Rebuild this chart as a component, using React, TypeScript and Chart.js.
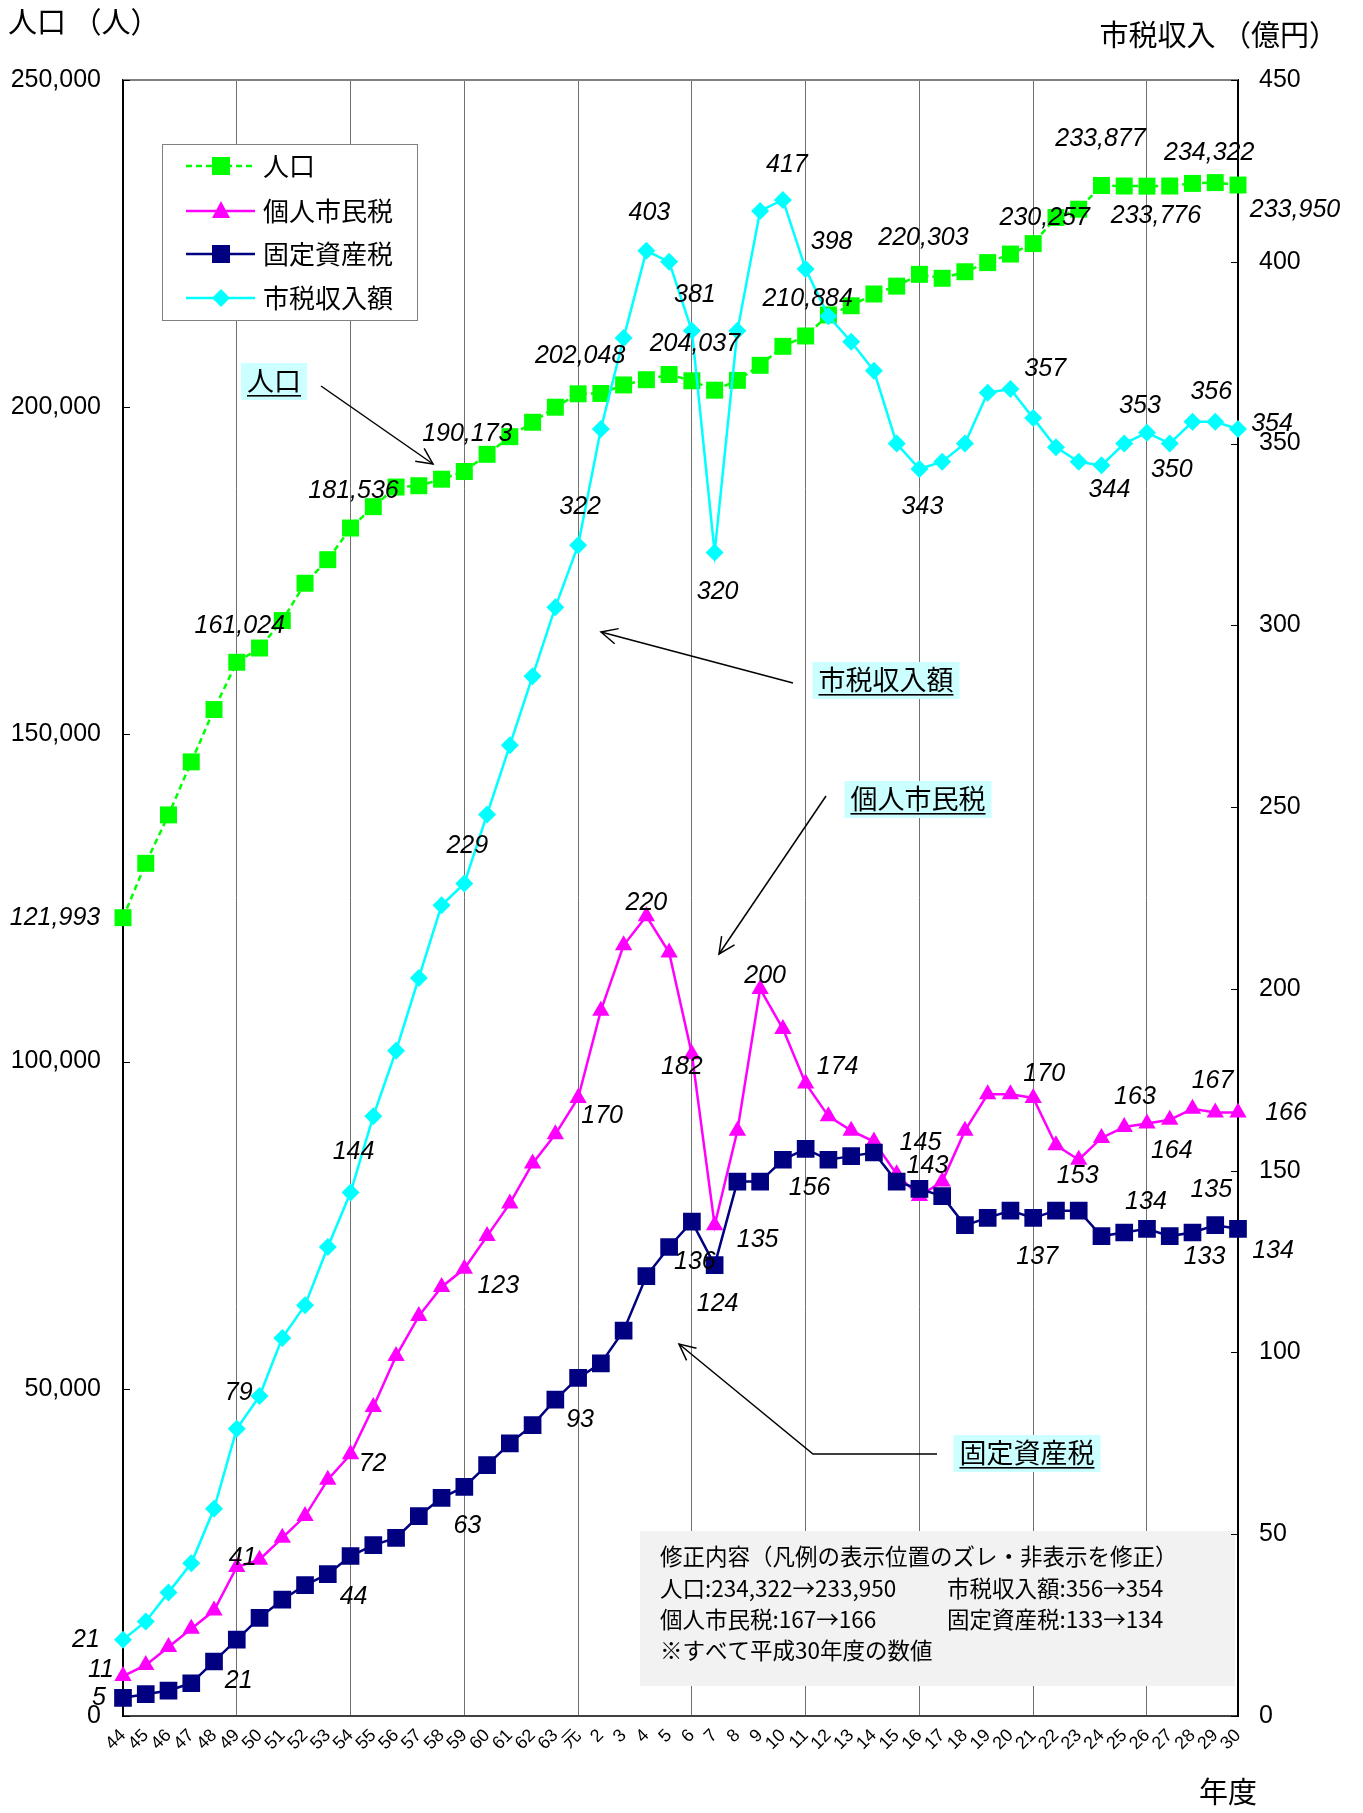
import React, { useEffect, useRef } from 'react';
import { Chart, registerables } from 'chart.js';

Chart.register(...registerables);

const W = 1363;
const H = 1813;

// ---------- data ----------
const fiscalYears = ['44','45','46','47','48','49','50','51','52','53','54','55','56','57','58','59','60','61','62','63','元','2','3','4','5','6','7','8','9','10','11','12','13','14','15','16','17','18','19','20','21','22','23','24','25','26','27','28','29','30'];

const population = [121993,130300,137700,145800,153800,161024,163200,167400,173100,176700,181536,184800,187800,188000,189000,190173,192800,195500,197700,200000,202048,202100,203400,204200,205000,204037,202600,204100,206400,209300,210884,214100,215500,217300,218500,220303,219700,220700,222100,223400,225000,229000,230257,233877,233800,233776,233800,234200,234322,233950];

const individualTax = [11,14,19,24,29,41,43,49,55,65,72,85,99,110,118,123,132,141,152,160,170,194,212,220,210,182,135,161,200,189,174,165,161,158,149,143,147,161,171,171,170,157,153,159,162,163,164,167,166,166];

const propertyTax = [5,6,7,9,15,21,27,32,36,39,44,47,49,55,60,63,69,75,80,87,93,97,106,121,129,136,124,147,147,153,156,153,154,155,147,145,143,135,137,139,137,139,139,132,133,134,132,133,135,134];

const cityTaxRevenue = [21,26,34,42,57,79,88,104,113,129,144,165,183,203,223,229,248,267,286,305,322,354,379,403,400,381,320,381,414,417,398,385,378,370,350,343,345,350,364,365,357,349,345,344,350,353,350,356,356,354];

const leftTicks = [0, 50000, 100000, 150000, 200000, 250000];
const rightTicks = [0, 50, 100, 150, 200, 250, 300, 350, 400, 450];

const seriesNames = ['人口', '個人市民税', '固定資産税', '市税収入額'];

const noteLines = [
  ['修正内容（凡例の表示位置のズレ・非表示を修正）', ''],
  ['人口:234,322→233,950', '市税収入額:356→354'],
  ['個人市民税:167→166', '固定資産税:133→134'],
  ['※すべて平成30年度の数値', ''],
];

// ---------- label placement (dataset index, point index, pixel offset) ----------
const labelSpecs: { ds: number; i: number; dx: number; dy: number }[] = [
  // population (ds 0)
  { ds: 0, i: 0, dx: -68, dy: 0 },
  { ds: 0, i: 5, dx: 3, dy: -36 },
  { ds: 0, i: 10, dx: 3, dy: -37 },
  { ds: 0, i: 15, dx: 3, dy: -37 },
  { ds: 0, i: 20, dx: 2, dy: -38 },
  { ds: 0, i: 25, dx: 3, dy: -37 },
  { ds: 0, i: 30, dx: 2, dy: -37 },
  { ds: 0, i: 35, dx: 4, dy: -36 },
  { ds: 0, i: 42, dx: -34, dy: 9 },
  { ds: 0, i: 43, dx: -1, dy: -46 },
  { ds: 0, i: 45, dx: 9, dy: 30 },
  { ds: 0, i: 48, dx: -6, dy: -30 },
  { ds: 0, i: 49, dx: 57, dy: 25 },
  // individual tax (ds 1)
  { ds: 1, i: 0, dx: -22, dy: -6 },
  { ds: 1, i: 5, dx: 6, dy: -9 },
  { ds: 1, i: 10, dx: 22, dy: 10 },
  { ds: 1, i: 15, dx: 34, dy: 17 },
  { ds: 1, i: 20, dx: 24, dy: 18 },
  { ds: 1, i: 23, dx: 0, dy: -13 },
  { ds: 1, i: 25, dx: -10, dy: 13 },
  { ds: 1, i: 26, dx: 43, dy: 15 },
  { ds: 1, i: 28, dx: 5, dy: -13 },
  { ds: 1, i: 30, dx: 32, dy: -16 },
  { ds: 1, i: 35, dx: 8, dy: -30 },
  { ds: 1, i: 40, dx: 11, dy: -24 },
  { ds: 1, i: 42, dx: -1, dy: 16 },
  { ds: 1, i: 45, dx: -12, dy: -26 },
  { ds: 1, i: 46, dx: 2, dy: 31 },
  { ds: 1, i: 47, dx: 20, dy: -28 },
  { ds: 1, i: 49, dx: 48, dy: 1 },
  // property tax (ds 2)
  { ds: 2, i: 0, dx: -24, dy: 0 },
  { ds: 2, i: 5, dx: 2, dy: 41 },
  { ds: 2, i: 10, dx: 3, dy: 41 },
  { ds: 2, i: 15, dx: 3, dy: 39 },
  { ds: 2, i: 20, dx: 2, dy: 42 },
  { ds: 2, i: 25, dx: 3, dy: 40 },
  { ds: 2, i: 26, dx: 3, dy: 39 },
  { ds: 2, i: 30, dx: 4, dy: 39 },
  { ds: 2, i: 35, dx: 1, dy: -46 },
  { ds: 2, i: 40, dx: 4, dy: 39 },
  { ds: 2, i: 45, dx: -1, dy: -27 },
  { ds: 2, i: 47, dx: 12, dy: 25 },
  { ds: 2, i: 48, dx: -4, dy: -35 },
  { ds: 2, i: 49, dx: 35, dy: 22 },
  // city tax revenue (ds 3)
  { ds: 3, i: 0, dx: -37, dy: 0 },
  { ds: 3, i: 5, dx: 2, dy: -36 },
  { ds: 3, i: 10, dx: 3, dy: -40 },
  { ds: 3, i: 15, dx: 3, dy: -37 },
  { ds: 3, i: 20, dx: 2, dy: -38 },
  { ds: 3, i: 23, dx: 3, dy: -38 },
  { ds: 3, i: 25, dx: 3, dy: -36 },
  { ds: 3, i: 26, dx: 3, dy: 39 },
  { ds: 3, i: 29, dx: 4, dy: -35 },
  { ds: 3, i: 30, dx: 26, dy: -27 },
  { ds: 3, i: 35, dx: 3, dy: 38 },
  { ds: 3, i: 40, dx: 12, dy: -49 },
  { ds: 3, i: 43, dx: 8, dy: 25 },
  { ds: 3, i: 45, dx: -7, dy: -27 },
  { ds: 3, i: 46, dx: 2, dy: 26 },
  { ds: 3, i: 48, dx: -4, dy: -30 },
  { ds: 3, i: 49, dx: 34, dy: -5 },
];

const JP = '"Noto Sans CJK JP", sans-serif';
const NUM = '"Liberation Sans", Arial, "Noto Sans CJK JP", sans-serif';

const fmt = (v: number) => Number(v).toLocaleString('en-US');

function drawMarker(ctx: CanvasRenderingContext2D, style: string, x: number, y: number, color: string) {
  ctx.save();
  ctx.fillStyle = color;
  ctx.beginPath();
  if (style === 'rect') {
    ctx.rect(x - 9, y - 9, 18, 18);
  } else if (style === 'triangle') {
    ctx.moveTo(x, y - 10);
    ctx.lineTo(x + 9, y + 7);
    ctx.lineTo(x - 9, y + 7);
    ctx.closePath();
  } else {
    ctx.moveTo(x, y - 9);
    ctx.lineTo(x + 9, y);
    ctx.lineTo(x, y + 9);
    ctx.lineTo(x - 9, y);
    ctx.closePath();
  }
  ctx.fill();
  ctx.restore();
}

function arrow(ctx: CanvasRenderingContext2D, pts: number[][]) {
  ctx.save();
  ctx.strokeStyle = '#000';
  ctx.lineWidth = 1.5;
  ctx.beginPath();
  ctx.moveTo(pts[0][0], pts[0][1]);
  for (let k = 1; k < pts.length; k++) ctx.lineTo(pts[k][0], pts[k][1]);
  ctx.stroke();
  const [fx, fy] = pts[pts.length - 2];
  const [tx, ty] = pts[pts.length - 1];
  const a = Math.atan2(ty - fy, tx - fx);
  const len = 18;
  const ang = Math.PI / 7;
  ctx.beginPath();
  ctx.moveTo(tx - len * Math.cos(a - ang), ty - len * Math.sin(a - ang));
  ctx.lineTo(tx, ty);
  ctx.lineTo(tx - len * Math.cos(a + ang), ty - len * Math.sin(a + ang));
  ctx.stroke();
  ctx.restore();
}

function callout(ctx: CanvasRenderingContext2D, text: string, cx: number, cy: number) {
  ctx.save();
  ctx.font = '27px ' + JP;
  const w = ctx.measureText(text).width;
  ctx.fillStyle = '#CCFFFF';
  ctx.fillRect(cx - w / 2 - 6, cy - 18, w + 12, 37);
  ctx.fillStyle = '#000';
  ctx.textAlign = 'center';
  ctx.textBaseline = 'middle';
  ctx.fillText(text, cx, cy);
  ctx.fillRect(cx - w / 2, cy + 14, w, 1.6);
  ctx.restore();
}

const overlayPlugin = {
  id: 'overlay',
  beforeDatasetsDraw(chart: any) {
    const ctx: CanvasRenderingContext2D = chart.ctx;
    // note box
    ctx.save();
    ctx.fillStyle = '#F2F2F2';
    ctx.fillRect(640, 1531, 595, 155);
    ctx.fillStyle = '#000';
    ctx.font = '22.5px ' + JP;
    ctx.textBaseline = 'middle';
    ctx.textAlign = 'left';
    const ys = [1556, 1588, 1619, 1650];
    noteLines.forEach((ln, k) => {
      ctx.fillText(ln[0], 660, ys[k]);
      if (ln[1]) ctx.fillText(ln[1], 947, ys[k]);
    });
    ctx.restore();
    // legend box
    ctx.save();
    ctx.fillStyle = '#fff';
    ctx.fillRect(162, 144, 255, 176);
    ctx.strokeStyle = '#808080';
    ctx.lineWidth = 1;
    ctx.strokeRect(162.5, 144.5, 255, 176);
    const rows = [166, 211, 254, 298];
    rows.forEach((y, k) => {
      const ds = chart.data.datasets[k];
      ctx.save();
      ctx.strokeStyle = ds.borderColor;
      ctx.lineWidth = ds.borderWidth;
      ctx.setLineDash(ds.borderDash || []);
      ctx.beginPath();
      ctx.moveTo(186, y);
      ctx.lineTo(255, y);
      ctx.stroke();
      ctx.restore();
      drawMarker(ctx, ds.pointStyle, 221, y, ds.backgroundColor);
      ctx.fillStyle = '#000';
      ctx.font = '26px ' + JP;
      ctx.textAlign = 'left';
      ctx.textBaseline = 'middle';
      ctx.fillText(seriesNames[k], 263, y);
    });
    ctx.restore();
  },
  afterDraw(chart: any) {
    const ctx: CanvasRenderingContext2D = chart.ctx;
    const { left, right, top } = chart.chartArea;
    ctx.save();
    // top border
    ctx.strokeStyle = '#808080';
    ctx.lineWidth = 2;
    ctx.beginPath();
    ctx.moveTo(left, top);
    ctx.lineTo(right, top);
    ctx.stroke();
    // inward tick marks
    ctx.strokeStyle = '#000';
    ctx.lineWidth = 1;
    leftTicks.forEach((v) => {
      const y = Math.round(chart.scales.y.getPixelForValue(v)) + 0.5;
      ctx.beginPath();
      ctx.moveTo(left, y);
      ctx.lineTo(left + 7, y);
      ctx.stroke();
    });
    rightTicks.forEach((v) => {
      const y = Math.round(chart.scales.y1.getPixelForValue(v)) + 0.5;
      ctx.beginPath();
      ctx.moveTo(right - 7, y);
      ctx.lineTo(right, y);
      ctx.stroke();
    });
    // data labels
    ctx.fillStyle = '#000';
    ctx.font = 'italic 25px ' + NUM;
    ctx.textAlign = 'center';
    ctx.textBaseline = 'middle';
    labelSpecs.forEach((s) => {
      const pt = chart.getDatasetMeta(s.ds).data[s.i];
      const v = chart.data.datasets[s.ds].data[s.i];
      ctx.fillText(fmt(v), pt.x + s.dx, pt.y + s.dy);
    });
    // axis titles
    ctx.font = '29px ' + JP;
    ctx.textAlign = 'left';
    ctx.fillText('人口 （人）', 8, 22);
    ctx.textAlign = 'right';
    ctx.fillText('市税収入 （億円）', 1338, 35);
    ctx.fillText('年度', 1257, 1792);
    ctx.restore();
    // callouts with arrows
    arrow(ctx, [[321, 386], [433, 464]]);
    callout(ctx, '人口', 274, 381);
    arrow(ctx, [[793, 683], [601, 632]]);
    callout(ctx, '市税収入額', 886, 680);
    arrow(ctx, [[826, 796], [719, 954]]);
    callout(ctx, '個人市民税', 918, 799);
    arrow(ctx, [[937, 1454], [813, 1454], [679, 1344]]);
    callout(ctx, '固定資産税', 1027, 1453);
  },
};

export default function App() {
  const ref = useRef<HTMLCanvasElement | null>(null);

  useEffect(() => {
    if (!ref.current) return;
    const chart = new Chart(ref.current, {
      type: 'line',
      data: {
        labels: fiscalYears,
        datasets: [
          {
            label: seriesNames[0],
            data: population,
            yAxisID: 'y',
            borderColor: '#00FF00',
            backgroundColor: '#00FF00',
            borderWidth: 2.5,
            borderDash: [6, 4],
            pointStyle: 'rect',
            pointRadius: 12,
            pointBorderWidth: 0,
            tension: 0,
            order: 4,
          },
          {
            label: seriesNames[1],
            data: individualTax,
            yAxisID: 'y1',
            borderColor: '#FF00FF',
            backgroundColor: '#FF00FF',
            borderWidth: 2.5,
            pointStyle: 'triangle',
            pointRadius: 10,
            pointBorderWidth: 0,
            tension: 0,
            order: 3,
          },
          {
            label: seriesNames[2],
            data: propertyTax,
            yAxisID: 'y1',
            borderColor: '#000080',
            backgroundColor: '#000080',
            borderWidth: 2.5,
            pointStyle: 'rect',
            pointRadius: 12.5,
            pointBorderWidth: 0,
            tension: 0,
            order: 2,
          },
          {
            label: seriesNames[3],
            data: cityTaxRevenue,
            yAxisID: 'y1',
            borderColor: '#00FFFF',
            backgroundColor: '#00FFFF',
            borderWidth: 2.5,
            pointStyle: 'rectRot',
            pointRadius: 9,
            pointBorderWidth: 0,
            tension: 0,
            order: 1,
          },
        ] as any,
      },
      options: {
        animation: false,
        responsive: false,
        devicePixelRatio: 1,
        layout: { padding: { top: 80, left: 0, right: 0, bottom: 0 } },
        plugins: {
          legend: { display: false },
          tooltip: { enabled: false },
          title: { display: false },
        },
        scales: {
          x: {
            type: 'category',
            offset: false,
            grid: {
              display: true,
              drawTicks: false,
              color: (c: any) => (c.index % 5 === 0 ? '#707070' : 'rgba(0,0,0,0)'),
              lineWidth: 1,
            },
            border: { display: true, color: '#404040', width: 2 },
            ticks: {
              autoSkip: false,
              maxRotation: 45,
              minRotation: 45,
              padding: 9,
              color: '#000',
              font: { family: NUM, size: 18 },
            },
            afterFit: (s: any) => {
              s.height = 97;
            },
          },
          y: {
            type: 'linear',
            position: 'left',
            min: 0,
            max: 250000,
            afterBuildTicks: (s: any) => {
              s.ticks = leftTicks.map((v) => ({ value: v }));
            },
            grid: { display: false, drawTicks: false },
            border: { display: true, color: '#000', width: 2 },
            ticks: {
              padding: 22,
              color: '#000',
              font: { family: NUM, size: 25 },
              callback: (v: any) => fmt(v),
            },
            afterFit: (s: any) => {
              s.width = 123;
            },
          },
          y1: {
            type: 'linear',
            position: 'right',
            min: 0,
            max: 450,
            afterBuildTicks: (s: any) => {
              s.ticks = rightTicks.map((v) => ({ value: v }));
            },
            grid: { display: false, drawTicks: false },
            border: { display: true, color: '#000', width: 2 },
            ticks: {
              padding: 21,
              color: '#000',
              font: { family: NUM, size: 25 },
              callback: (v: any) => String(v),
            },
            afterFit: (s: any) => {
              s.width = 125;
            },
          },
        },
      } as any,
      plugins: [overlayPlugin],
    });
    return () => chart.destroy();
  }, []);

  return (
    <div style={{ position: 'absolute', left: 0, top: 0, width: W, height: H, background: '#fff' }}>
      <canvas ref={ref} width={W} height={H} style={{ width: W, height: H, display: 'block' }} />
    </div>
  );
}
